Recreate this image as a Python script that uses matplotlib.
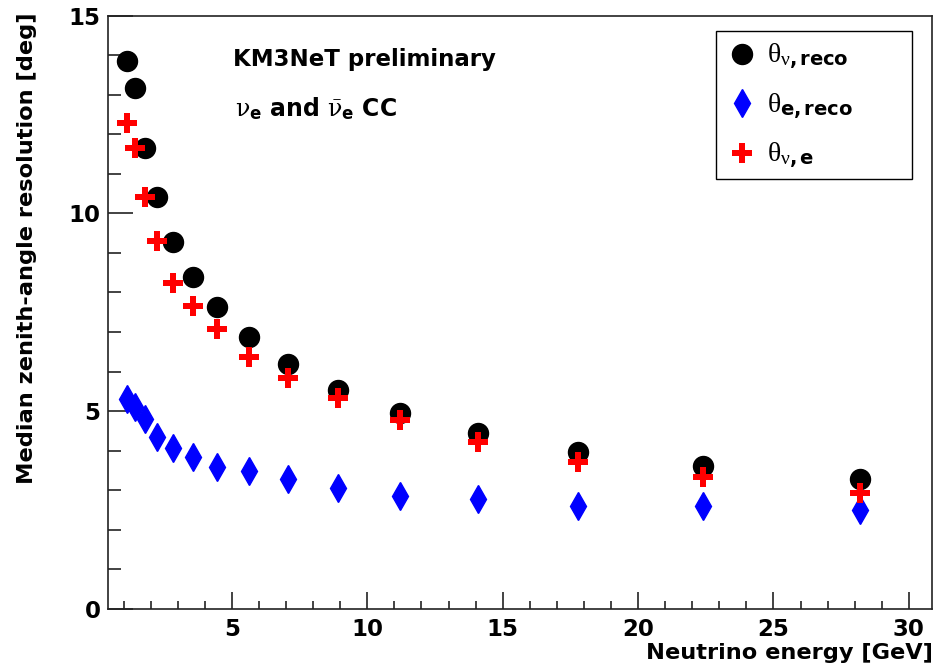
import matplotlib
matplotlib.use("Agg")
import matplotlib.pyplot as plt
from matplotlib.patches import Rectangle
from matplotlib.ticker import MultipleLocator

# energies (GeV), log-spaced bin centres
energy = [1.12, 1.41, 1.78, 2.24, 2.82, 3.55, 4.47, 5.62, 7.08, 8.91,
          11.2, 14.1, 17.8, 22.4, 28.2]

# median zenith-angle resolution [deg]
theta_nu_reco = [13.86, 13.18, 11.65, 10.42, 9.28, 8.40, 7.63, 6.88, 6.19, 5.54,
                 4.94, 4.44, 3.97, 3.62, 3.28]
theta_e_reco = [5.30, 5.11, 4.80, 4.34, 4.06, 3.85, 3.58, 3.48, 3.27, 3.05,
                2.86, 2.77, 2.61, 2.61, 2.50]
theta_nu_e = [12.29, 11.65, 10.42, 9.30, 8.25, 7.66, 7.07, 6.37, 5.83, 5.32,
              4.77, 4.22, 3.72, 3.32, 2.92]

labels = [r"$\theta_{\nu\mathbf{,reco}}$",
          r"$\theta_{\mathbf{e,reco}}$",
          r"$\theta_{\nu\mathbf{,e}}$"]

plt.rcParams["font.family"] = ["DejaVu Sans"]
plt.rcParams["font.weight"] = "bold"
plt.rcParams["mathtext.fontset"] = "custom"
plt.rcParams["mathtext.rm"] = "Liberation Serif:weight=normal"
plt.rcParams["mathtext.it"] = "Liberation Serif:weight=normal"
plt.rcParams["mathtext.sf"] = "DejaVu Serif:style=normal:weight=normal"
plt.rcParams["mathtext.bf"] = "DejaVu Sans:bold"

fig = plt.figure(figsize=(9.35, 6.7), dpi=100)
ax = fig.add_axes([0.115, 0.0915, 0.8823, 0.885])

ax.plot(energy, theta_nu_reco, "o", color="black", markersize=14.4, label=labels[0], zorder=3)
ax.plot(energy, theta_e_reco, "d", color="blue", markersize=14, label=labels[1], zorder=3)
ax.plot(energy, theta_nu_e, "P", color="red", markersize=15, markeredgewidth=0, label=labels[2], zorder=4)

ax.set_xlim(0.41, 30.87)
ax.set_ylim(0, 15)

ax.xaxis.set_major_locator(MultipleLocator(5))
ax.xaxis.set_minor_locator(MultipleLocator(1))
ax.yaxis.set_major_locator(MultipleLocator(5))
ax.yaxis.set_minor_locator(MultipleLocator(1))
ax.tick_params(axis="both", which="both", direction="in", top=False, right=False,
               labelsize=16.5, width=1.2, color="#222222")
ax.tick_params(axis="x", which="major", length=12, pad=7)
ax.tick_params(axis="x", which="minor", length=6)
ax.tick_params(axis="y", which="major", length=18, pad=5)
ax.tick_params(axis="y", which="minor", length=9.2)
for lab in ax.get_xticklabels() + ax.get_yticklabels():
    lab.set_fontweight("bold")

for s in ax.spines.values():
    s.set_linewidth(1.2)
    s.set_color("#222222")

ax.set_xlabel("Neutrino energy [GeV]", fontsize=16.2, fontweight="bold", loc="right")
ax.xaxis.set_label_coords(1.0, -0.058)
ax.set_ylabel("Median zenith-angle resolution [deg]", fontsize=16.2, fontweight="bold", loc="top")
ax.yaxis.set_label_coords(-0.085, 1.006)

ax.text(0.1515, 0.9152, "KM3NeT preliminary", transform=ax.transAxes,
        fontsize=16.5, fontweight="bold", va="baseline")
ax.text(0.155, 0.829, r"$\mathsf{\nu}_{\mathbf{e}}$ and $\bar{\mathsf{\nu}}_{\mathbf{e}}$ CC",
        transform=ax.transAxes, fontsize=17, fontweight="bold", va="baseline")

# legend box drawn separately, entries without frame
ax.add_patch(Rectangle((0.7376, 0.7246), 0.2376, 0.2496, transform=ax.transAxes,
                       facecolor="white", edgecolor="black", linewidth=1.0, zorder=5))
leg = ax.legend(loc="upper left", bbox_to_anchor=(0.7485, 0.9566), fontsize=20,
                frameon=False, borderpad=0, labelspacing=0.67, handletextpad=0.3,
                handlelength=1.2, borderaxespad=0)
leg.set_zorder(6)

fig.savefig("out.png", dpi=100)
